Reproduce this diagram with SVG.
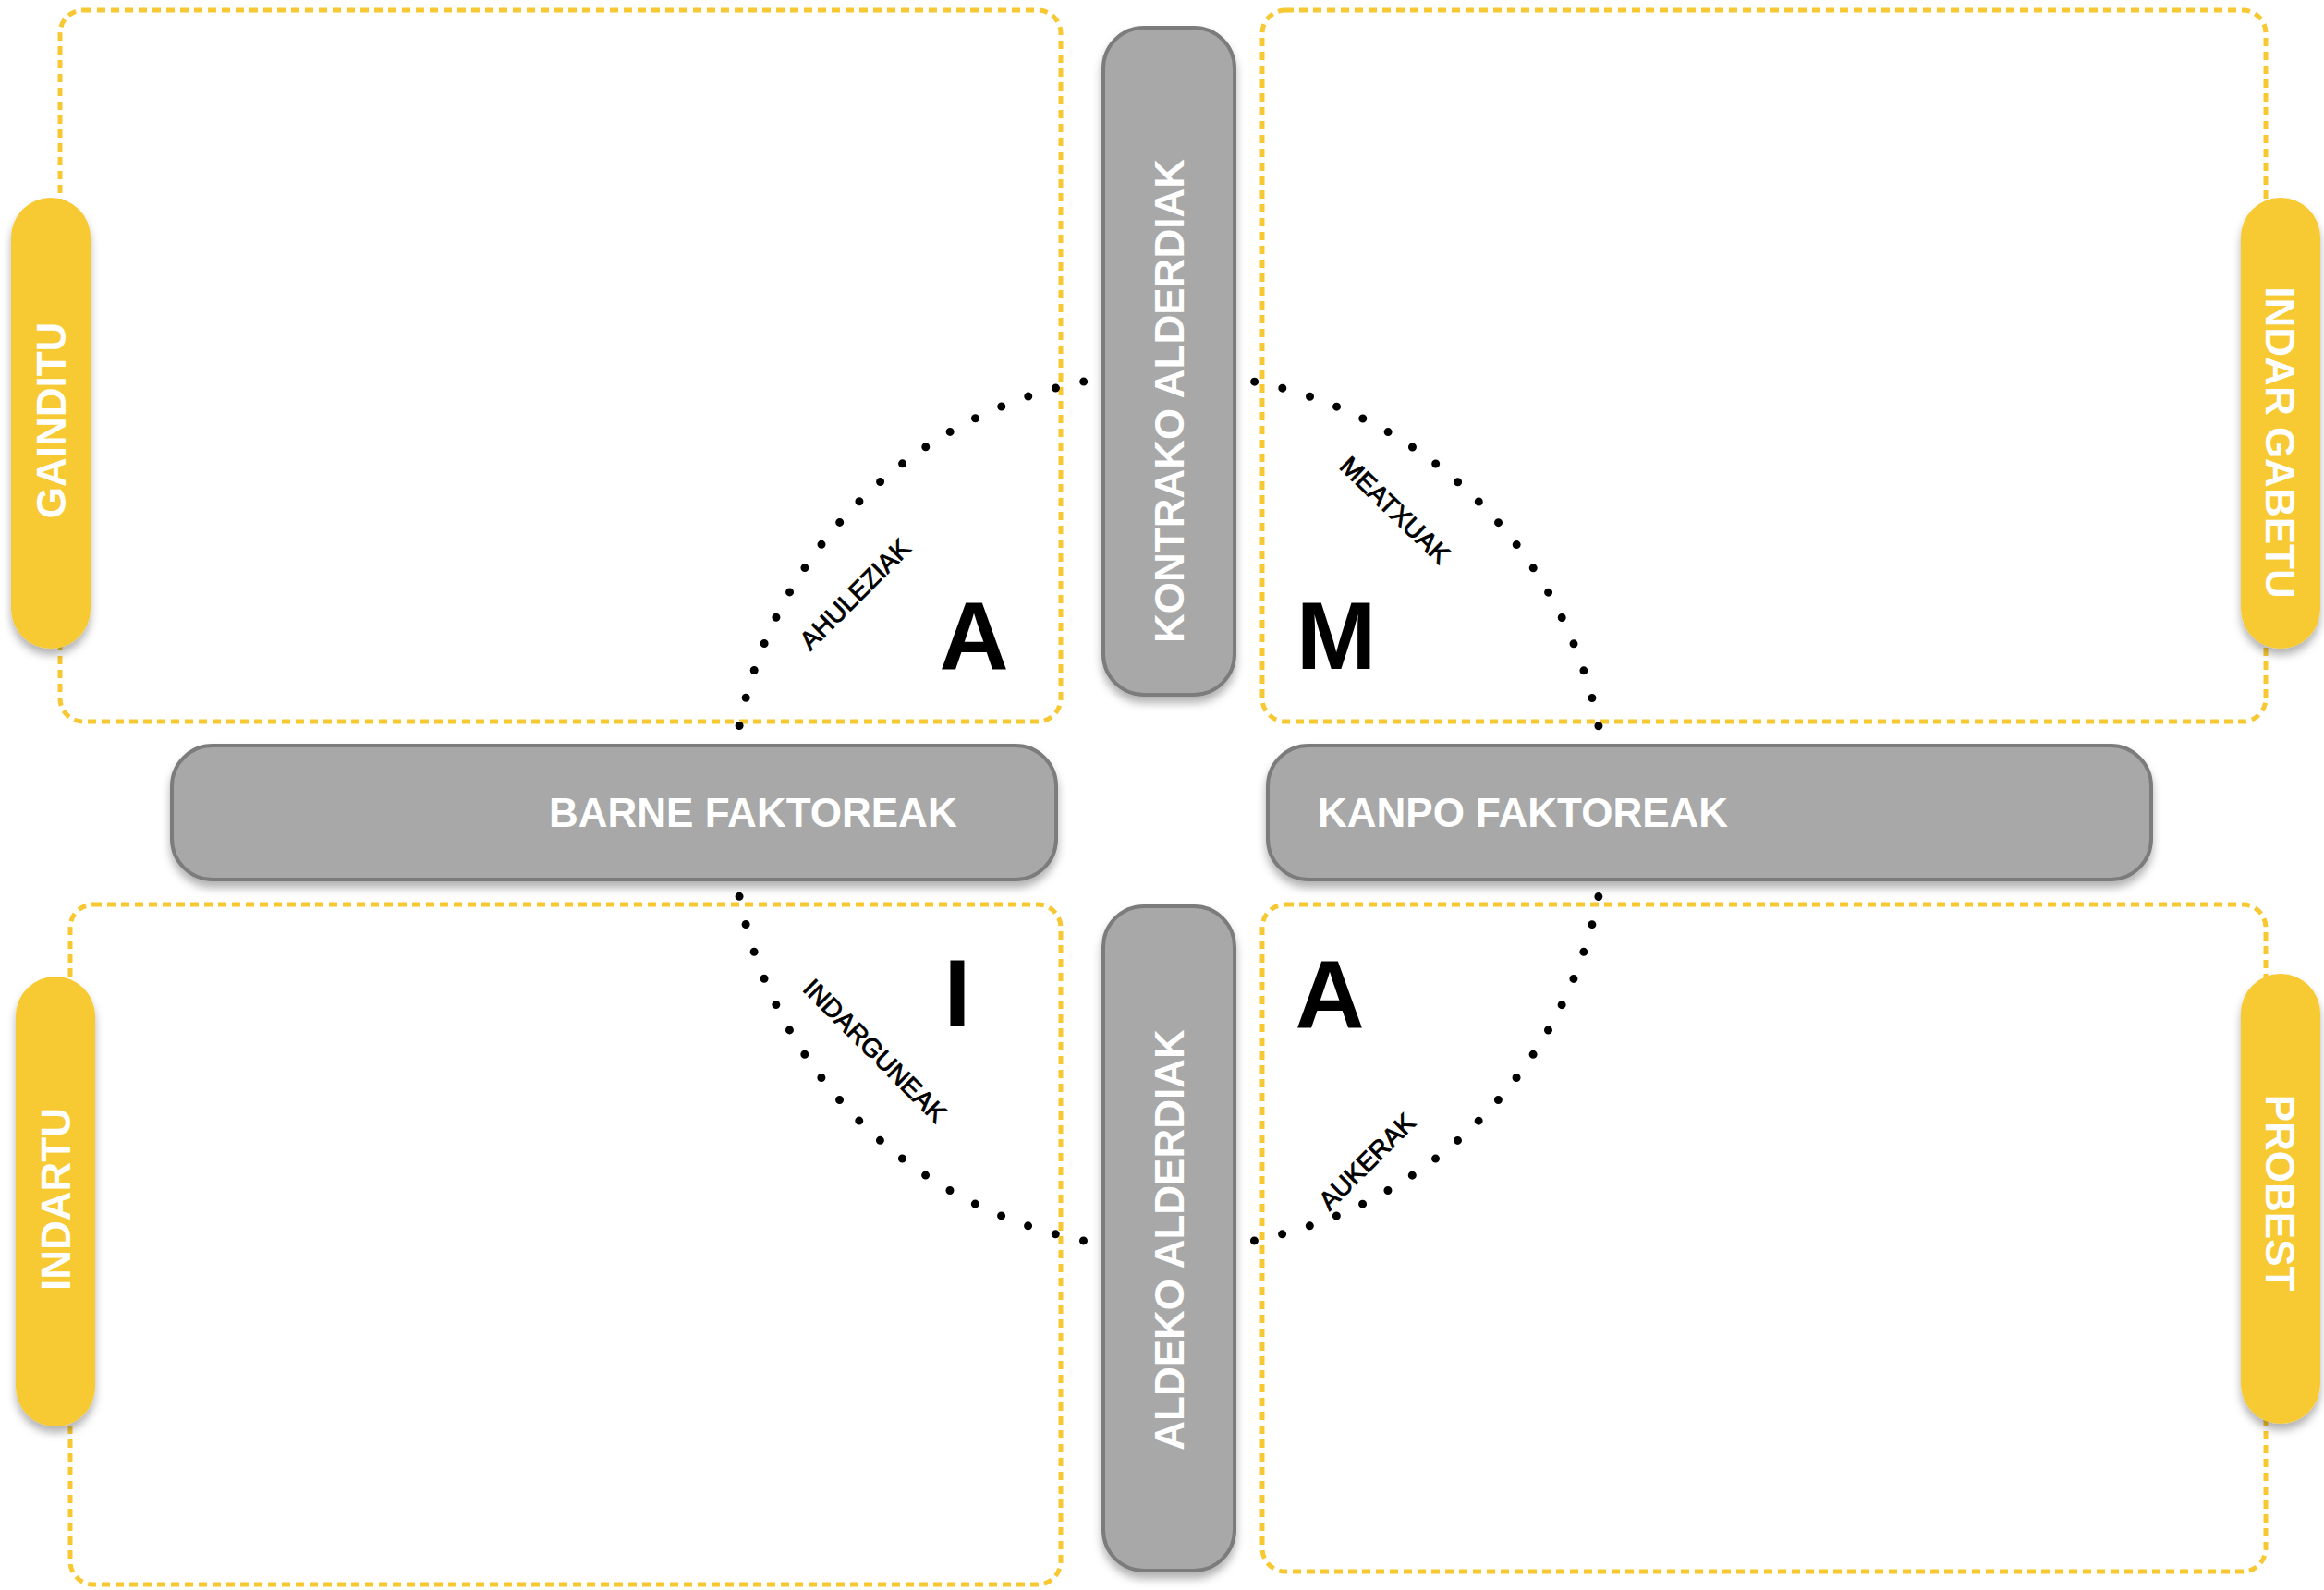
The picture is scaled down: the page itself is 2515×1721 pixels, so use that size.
<svg xmlns="http://www.w3.org/2000/svg" width="2515" height="1721" viewBox="0 0 2515 1721">
<style>
.box{fill:none;stroke:#f7c832;stroke-width:5;stroke-dasharray:9 6}
.grey{fill:#a7a8a7;stroke:#7c7c7c;stroke-width:4}
.yellow{fill:#f7c932}
.wt{font-family:"Liberation Sans",Arial,sans-serif;font-weight:bold;font-size:44px;fill:#ffffff}
.lbl{font-family:"Liberation Sans",Arial,sans-serif;font-size:28px;fill:#000;stroke:#000;stroke-width:0.9;text-anchor:middle}
.big{font-family:"Liberation Sans",Arial,sans-serif;font-weight:bold;font-size:104px;fill:#000;text-anchor:middle}
.dots{fill:none;stroke:#000;stroke-width:9;stroke-linecap:round;stroke-dasharray:0 31.02}
</style>
<defs>
<filter id="sh" x="-20%" y="-20%" width="140%" height="140%">
<feDropShadow dx="0" dy="7" stdDeviation="5" flood-color="#000" flood-opacity="0.3"/>
</filter>
</defs>
<rect width="2515" height="1721" fill="#ffffff"/>
<g id="quadrants">
<rect id="q-tl" class="box" x="65" y="11" width="1083" height="770" rx="25"/>
<rect id="q-tr" class="box" x="1366" y="11" width="1086" height="770" rx="25"/>
<rect id="q-bl" class="box" x="76" y="979" width="1072" height="736" rx="25"/>
<rect id="q-br" class="box" x="1366" y="979" width="1086" height="722" rx="25"/>
</g>
<g id="connectors">
<circle class="dots" cx="1265" cy="878" r="474"/>
</g>
<g id="arc-labels">
<text class="lbl" transform="translate(932,650) rotate(-45)">AHULEZIAK</text>
<text class="lbl" transform="translate(1503,559) rotate(44)">MEATXUAK</text>
<text class="lbl" transform="translate(940,1144) rotate(45)">INDARGUNEAK</text>
<text class="lbl" transform="translate(1486,1264) rotate(-45)">AUKERAK</text>
</g>
<g id="letters">
<text class="big" x="1054" y="724">A</text>
<text class="big" x="1446" y="724">M</text>
<text class="big" x="1036" y="1111">I</text>
<text class="big" x="1439" y="1112">A</text>
</g>
<g id="kontrako">
<rect class="grey" filter="url(#sh)" x="1194" y="30" width="142" height="722" rx="44"/>
<text class="wt" text-anchor="middle" transform="translate(1281,434) rotate(-90)">KONTRAKO ALDERDIAK</text>
</g>
<g id="aldeko">
<rect class="grey" filter="url(#sh)" x="1194" y="981" width="142" height="719" rx="44"/>
<text class="wt" text-anchor="middle" transform="translate(1281,1342) rotate(-90)">ALDEKO ALDERDIAK</text>
</g>
<g id="barne">
<rect class="grey" filter="url(#sh)" x="186" y="807" width="957" height="145" rx="44"/>
<text class="wt" x="594" y="895">BARNE FAKTOREAK</text>
</g>
<g id="kanpo">
<rect class="grey" filter="url(#sh)" x="1372" y="807" width="956" height="145" rx="44"/>
<text class="wt" x="1426" y="895">KANPO FAKTOREAK</text>
</g>
<g id="gainditu">
<rect class="yellow" filter="url(#sh)" x="12" y="214" width="86" height="488" rx="43"/>
<text class="wt" text-anchor="middle" transform="translate(71,455) rotate(-90)">GAINDITU</text>
</g>
<g id="indartu">
<rect class="yellow" filter="url(#sh)" x="17" y="1057" width="86" height="487" rx="43"/>
<text class="wt" text-anchor="middle" transform="translate(76,1298) rotate(-90)">INDARTU</text>
</g>
<g id="indar-gabetu">
<rect class="yellow" filter="url(#sh)" x="2425" y="214" width="86" height="488" rx="43"/>
<text class="wt" text-anchor="middle" transform="translate(2452,479) rotate(90)">INDAR GABETU</text>
</g>
<g id="probest">
<rect class="yellow" filter="url(#sh)" x="2425" y="1054" width="86" height="487" rx="43"/>
<text class="wt" text-anchor="middle" transform="translate(2452,1291) rotate(90)">PROBEST</text>
</g>
</svg>
